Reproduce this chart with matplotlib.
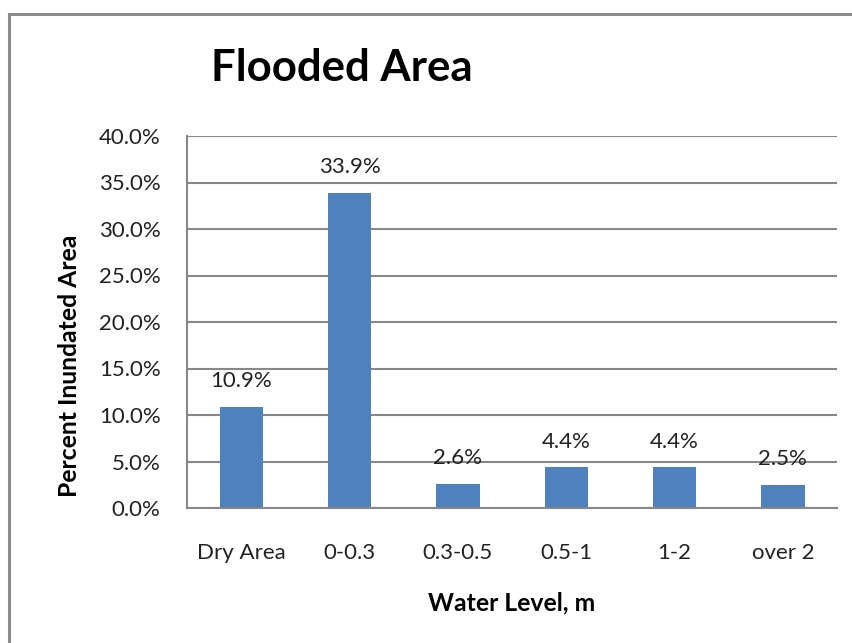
import matplotlib
matplotlib.use("Agg")
import matplotlib.pyplot as plt
from matplotlib.lines import Line2D
from matplotlib.ticker import FuncFormatter
import numpy as np

# flood depth classes and share of the area in each
levels = ["Dry Area", "0-0.3", "0.3-0.5", "0.5-1", "1-2", "over 2"]
percent = [10.9, 33.9, 2.6, 4.4, 4.4, 2.5]

plt.rcParams['font.family'] = ['Lato', 'DejaVu Sans']

W, H = 852, 643
fig = plt.figure(figsize=(W / 100, H / 100), dpi=100)
ax = fig.add_axes([187 / W, 1 - 508 / H, (837 - 187) / W, (508 - 136) / H])

x = np.arange(len(levels))
bars = ax.bar(x, percent, width=0.4, color="#4F81BD", zorder=3)

for rect, v in zip(bars, percent):
    ax.annotate('{:.1f}%'.format(v),
                xy=(rect.get_x() + rect.get_width() / 2, v),
                xytext=(0, 14), textcoords="offset points",
                ha='center', va='baseline', fontsize=16, color='#222222')

ax.set_xlim(-0.5, len(levels) - 0.5)
ax.set_ylim(0, 40)
ax.set_yticks(np.arange(0, 45, 5))
ax.yaxis.set_major_formatter(FuncFormatter(lambda v, p: '{:.1f}%'.format(v)))
ax.set_xticks(x)
ax.set_xticklabels(levels)
ax.tick_params(axis='both', length=0, labelsize=16, colors='#222222')
ax.tick_params(axis='x', pad=25)
ax.tick_params(axis='y', pad=19)

ax.grid(axis='y', color='#888888', linewidth=1.5, zorder=0)
for side in ['top', 'right']:
    ax.spines[side].set_visible(False)
for side in ['left', 'bottom']:
    ax.spines[side].set_color('#888888')
    ax.spines[side].set_linewidth(1.5)
    ax.spines[side].set_zorder(4)

fig.text(342 / W, 1 - 68 / H, "Flooded Area", fontsize=31.5, fontweight='bold',
         ha='center', va='center')
fig.text(512 / W, 1 - 603 / H, "Water Level, m", fontsize=17.8, fontweight='bold',
         ha='center', va='center')
fig.text(70 / W, 1 - 366 / H, "Percent Inundated Area", fontsize=17.8,
         fontweight='bold', rotation=90, ha='center', va='center')

# chart frame (top and left edges)
fig.add_artist(Line2D([9 / W, 1], [1 - 13.5 / H, 1 - 13.5 / H],
                      color='#8C8C8C', linewidth=2.2, transform=fig.transFigure))
fig.add_artist(Line2D([9 / W, 9 / W], [0, 1 - 13.5 / H],
                      color='#8C8C8C', linewidth=2.2, transform=fig.transFigure))

fig.savefig("out.png", dpi=100)
